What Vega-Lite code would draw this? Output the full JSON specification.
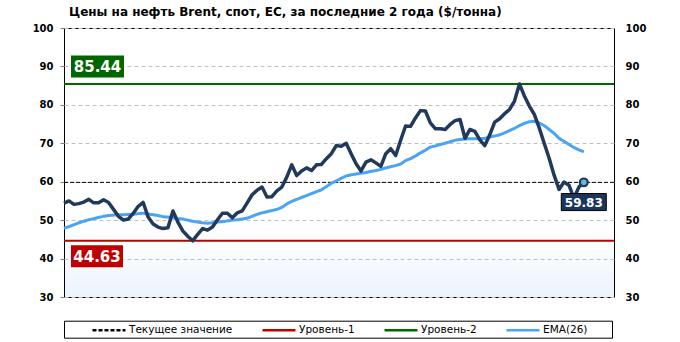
{
  "$schema": "https://vega.github.io/schema/vega-lite/v6.json",
  "width": 550,
  "height": 269,
  "autosize": {"type": "none"},
  "padding": {"left": 64, "top": 28, "right": 66, "bottom": 45},
  "background": "#ffffff",
  "title": {
    "text": "Цены на нефть Brent, спот, ЕС, за последние 2 года ($/тонна)",
    "anchor": "start", "frame": "group", "font": "DejaVu Sans", "fontSize": 12,
    "fontWeight": "bold", "color": "#000000", "offset": 4, "dx": 5
  },
  "config": {
    "view": {"stroke": "#000000", "strokeWidth": 1,
      "fill": {"gradient": "linear", "x1": 0, "y1": 0, "x2": 0, "y2": 1,
        "stops": [{"offset": 0, "color": "#ffffff"}, {"offset": 0.78, "color": "#ffffff"}, {"offset": 1, "color": "#eaf3fd"}]}},
    "axis": {"labelFont": "DejaVu Sans", "labelFontWeight": "bold", "labelColor": "#000000", "title": null, "domain": false,
      "gridColor": "#c0c0c0", "gridDash": [4, 3], "gridWidth": 1}
  },
  "datasets": {
    "price": [
      {"i":0,"v":54.4},{"i":1,"v":55.0},{"i":2,"v":54.1},{"i":3,"v":54.3},{"i":4,"v":54.7},{"i":5,"v":55.4},{"i":6,"v":54.5},{"i":7,"v":54.5},{"i":8,"v":55.3},{"i":9,"v":54.6},
      {"i":10,"v":52.8},{"i":11,"v":51.0},{"i":12,"v":50.0},{"i":13,"v":50.3},{"i":14,"v":51.8},{"i":15,"v":53.6},{"i":16,"v":54.6},{"i":17,"v":50.8},{"i":18,"v":49.0},{"i":19,"v":48.2},
      {"i":20,"v":47.8},{"i":21,"v":48.0},{"i":22,"v":52.4},{"i":23,"v":49.5},{"i":24,"v":47.2},{"i":25,"v":45.8},{"i":26,"v":44.63},{"i":27,"v":46.3},{"i":28,"v":47.8},{"i":29,"v":47.4},
      {"i":30,"v":48.2},{"i":31,"v":50.1},{"i":32,"v":51.8},{"i":33,"v":51.8},{"i":34,"v":50.6},{"i":35,"v":51.9},{"i":36,"v":52.4},{"i":37,"v":54.5},{"i":38,"v":56.6},{"i":39,"v":57.8},
      {"i":40,"v":58.6},{"i":41,"v":56.0},{"i":42,"v":56.1},{"i":43,"v":57.6},{"i":44,"v":58.6},{"i":45,"v":61.2},{"i":46,"v":64.4},{"i":47,"v":61.6},{"i":48,"v":62.8},{"i":49,"v":63.6},
      {"i":50,"v":62.9},{"i":51,"v":64.4},{"i":52,"v":64.5},{"i":53,"v":66.0},{"i":54,"v":67.3},{"i":55,"v":69.4},{"i":56,"v":69.2},{"i":57,"v":70.0},{"i":58,"v":67.3},{"i":59,"v":64.7},
      {"i":60,"v":62.8},{"i":61,"v":65.1},{"i":62,"v":65.7},{"i":63,"v":64.9},{"i":64,"v":64.0},{"i":65,"v":67.3},{"i":66,"v":68.6},{"i":67,"v":66.8},{"i":68,"v":70.8},{"i":69,"v":74.5},
      {"i":70,"v":74.4},{"i":71,"v":76.6},{"i":72,"v":78.5},{"i":73,"v":78.4},{"i":74,"v":75.3},{"i":75,"v":73.8},{"i":76,"v":73.8},{"i":77,"v":73.6},{"i":78,"v":74.9},{"i":79,"v":75.9},
      {"i":80,"v":76.2},{"i":81,"v":71.3},{"i":82,"v":73.6},{"i":83,"v":73.1},{"i":84,"v":70.9},{"i":85,"v":69.4},{"i":86,"v":72.2},{"i":87,"v":75.5},{"i":88,"v":76.4},{"i":89,"v":77.7},
      {"i":90,"v":78.8},{"i":91,"v":81.0},{"i":92,"v":85.44},{"i":93,"v":82.3},{"i":94,"v":79.7},{"i":95,"v":77.5},{"i":96,"v":74.0},{"i":97,"v":70.0},{"i":98,"v":66.1},{"i":99,"v":61.7},
      {"i":100,"v":58.0},{"i":101,"v":59.9},{"i":102,"v":59.1},{"i":103,"v":55.7},{"i":104,"v":58.6},{"i":105,"v":59.83}
    ],
    "ema": [
      {"i":0,"v":47.9},{"i":1,"v":48.3},{"i":2,"v":48.8},{"i":3,"v":49.3},{"i":4,"v":49.7},{"i":5,"v":50.1},{"i":6,"v":50.4},{"i":7,"v":50.7},{"i":8,"v":51.0},{"i":9,"v":51.2},
      {"i":10,"v":51.3},{"i":11,"v":51.4},{"i":12,"v":51.4},{"i":13,"v":51.5},{"i":14,"v":51.5},{"i":15,"v":51.7},{"i":16,"v":51.8},{"i":17,"v":51.6},{"i":18,"v":51.4},{"i":19,"v":51.2},
      {"i":20,"v":50.9},{"i":21,"v":50.8},{"i":22,"v":50.6},{"i":23,"v":50.4},{"i":24,"v":50.3},{"i":25,"v":50.0},{"i":26,"v":49.7},{"i":27,"v":49.5},{"i":28,"v":49.3},{"i":29,"v":49.2},
      {"i":30,"v":49.3},{"i":31,"v":49.5},{"i":32,"v":49.6},{"i":33,"v":49.8},{"i":34,"v":50.0},{"i":35,"v":50.1},{"i":36,"v":50.3},{"i":37,"v":50.5},{"i":38,"v":51.0},{"i":39,"v":51.5},
      {"i":40,"v":51.9},{"i":41,"v":52.2},{"i":42,"v":52.5},{"i":43,"v":52.8},{"i":44,"v":53.3},{"i":45,"v":54.2},{"i":46,"v":54.9},{"i":47,"v":55.4},{"i":48,"v":55.9},{"i":49,"v":56.4},
      {"i":50,"v":56.9},{"i":51,"v":57.4},{"i":52,"v":57.9},{"i":53,"v":58.7},{"i":54,"v":59.6},{"i":55,"v":60.2},{"i":56,"v":60.9},{"i":57,"v":61.5},{"i":58,"v":61.8},{"i":59,"v":62.0},
      {"i":60,"v":62.2},{"i":61,"v":62.4},{"i":62,"v":62.7},{"i":63,"v":62.9},{"i":64,"v":63.2},{"i":65,"v":63.6},{"i":66,"v":63.9},{"i":67,"v":64.2},{"i":68,"v":64.6},{"i":69,"v":65.5},
      {"i":70,"v":66.0},{"i":71,"v":66.7},{"i":72,"v":67.5},{"i":73,"v":68.2},{"i":74,"v":69.0},{"i":75,"v":69.3},{"i":76,"v":69.7},{"i":77,"v":70.0},{"i":78,"v":70.4},{"i":79,"v":70.8},
      {"i":80,"v":71.0},{"i":81,"v":71.1},{"i":82,"v":71.2},{"i":83,"v":71.2},{"i":84,"v":71.2},{"i":85,"v":71.3},{"i":86,"v":71.6},{"i":87,"v":71.9},{"i":88,"v":72.2},{"i":89,"v":72.7},
      {"i":90,"v":73.3},{"i":91,"v":73.9},{"i":92,"v":74.6},{"i":93,"v":75.2},{"i":94,"v":75.6},{"i":95,"v":75.7},{"i":96,"v":75.3},{"i":97,"v":74.6},{"i":98,"v":73.6},{"i":99,"v":72.6},
      {"i":100,"v":71.3},{"i":101,"v":70.5},{"i":102,"v":69.7},{"i":103,"v":68.9},{"i":104,"v":68.3},{"i":105,"v":67.8}
    ],
    "levels": [
      {"s": "Текущее значение", "v": 59.83},
      {"s": "Уровень-1", "v": 44.63},
      {"s": "Уровень-2", "v": 85.44}
    ]
  },
  "resolve": {"axis": {"y": "independent"}},
  "layer": [
    {
      "data": {"name": "levels"},
      "transform": [{"filter": "datum.s === 'Текущее значение'"}],
      "mark": {"type": "rule", "strokeWidth": 1},
      "encoding": {
        "y": {"field": "v", "type": "quantitative", "scale": {"domain": [30, 100], "nice": false, "zero": false}, "axis": null},
        "color": {"field": "s", "type": "nominal",
          "scale": {"domain": ["Текущее значение", "Уровень-1", "Уровень-2", "EMA(26)"], "range": ["#000000", "#C00000", "#006600", "#4AA3F4"]},
          "legend": {"orient": "none", "legendX": 0, "legendY": 292.7, "direction": "horizontal", "title": "\u00a0",
            "titleOrient": "right", "titlePadding": 23, "titleFontSize": 6,
            "strokeColor": "#000000", "padding": 2, "symbolType": "M-4.5,0H1", "symbolSize": 144, "symbolOffset": 46,
            "symbolStrokeWidth": 2.5, "labelOffset": 2, "columnPadding": 3, "labelFont": "DejaVu Sans", "labelFontSize": 10.5, "labelColor": "#000000"}},
        "strokeDash": {"field": "s", "type": "nominal",
          "scale": {"domain": ["Текущее значение", "Уровень-1", "Уровень-2", "EMA(26)"], "range": [[4, 2], [1, 0], [1, 0], [1, 0]]}}
      }
    },
    {
      "data": {"name": "levels"},
      "transform": [{"filter": "datum.s !== 'Текущее значение'"}],
      "mark": {"type": "rule", "strokeWidth": 2},
      "encoding": {
        "y": {"field": "v", "type": "quantitative", "axis": null},
        "color": {"field": "s", "type": "nominal"},
        "strokeDash": {"field": "s", "type": "nominal"}
      }
    },
    {
      "data": {"name": "ema"},
      "mark": {"type": "line", "strokeWidth": 3, "strokeJoin": "round"},
      "encoding": {
        "x": {"field": "i", "type": "quantitative", "axis": null},
        "y": {"field": "v", "type": "quantitative",
          "axis": {"orient": "right", "values": [30, 40, 50, 60, 70, 80, 90, 100], "grid": false, "ticks": false, "labelPadding": 11, "labelFontSize": 10}},
        "color": {"datum": "EMA(26)"},
        "strokeDash": {"datum": "EMA(26)"}
      }
    },
    {
      "data": {"name": "price"},
      "mark": {"type": "line", "strokeWidth": 3.5, "color": "#213A5C", "strokeJoin": "round"},
      "encoding": {
        "x": {"field": "i", "type": "quantitative", "scale": {"domain": [0, 111.1], "nice": false, "zero": false},
          "axis": {"values": [0, 26, 52, 78, 104], "grid": true, "ticks": false, "labelFlush": false, "labelOverlap": false,
            "labelFontSize": 9.5, "labelPadding": 9,
            "labelExpr": "datum.value == 0 ? '30.12.2016' : datum.value == 26 ? '30.06.2017' : datum.value == 52 ? '29.12.2017' : datum.value == 78 ? '06.07.2018' : '18.01.2019'"}},
        "y": {"field": "v", "type": "quantitative",
          "axis": {"orient": "left", "values": [30, 40, 50, 60, 70, 80, 90, 100], "grid": true, "ticks": true, "tickSize": 4, "tickColor": "#808080", "labelPadding": 7, "labelFontSize": 10}}
      }
    },
    {
      "data": {"name": "levels"},
      "transform": [{"filter": "datum.s === 'Уровень-2'"}],
      "mark": {"type": "point", "shape": "M-2.409,-1H2.409V1H-2.409Z", "size": 484, "filled": true, "fill": "#006600", "opacity": 1, "strokeWidth": 0, "xOffset": 33.5, "yOffset": -17.5},
      "encoding": {"x": {"datum": 0, "type": "quantitative", "axis": null}, "y": {"field": "v", "type": "quantitative", "axis": null}}
    },
    {
      "data": {"name": "levels"},
      "transform": [{"filter": "datum.s === 'Уровень-2'"}],
      "mark": {"type": "text", "font": "DejaVu Sans", "fontSize": 15, "fontWeight": "bold", "color": "#ffffff", "align": "center", "baseline": "middle", "xOffset": 33.5, "yOffset": -17},
      "encoding": {"x": {"datum": 0, "type": "quantitative", "axis": null}, "y": {"field": "v", "type": "quantitative", "axis": null}, "text": {"field": "v", "type": "quantitative", "format": ".2f"}}
    },
    {
      "data": {"name": "levels"},
      "transform": [{"filter": "datum.s === 'Уровень-1'"}],
      "mark": {"type": "point", "shape": "M-2.364,-1H2.364V1H-2.364Z", "size": 484, "filled": true, "fill": "#C00000", "opacity": 1, "strokeWidth": 0, "xOffset": 33, "yOffset": 15.5},
      "encoding": {"x": {"datum": 0, "type": "quantitative", "axis": null}, "y": {"field": "v", "type": "quantitative", "axis": null}}
    },
    {
      "data": {"name": "levels"},
      "transform": [{"filter": "datum.s === 'Уровень-1'"}],
      "mark": {"type": "text", "font": "DejaVu Sans", "fontSize": 15, "fontWeight": "bold", "color": "#ffffff", "align": "center", "baseline": "middle", "xOffset": 33, "yOffset": 16},
      "encoding": {"x": {"datum": 0, "type": "quantitative", "axis": null}, "y": {"field": "v", "type": "quantitative", "axis": null}, "text": {"field": "v", "type": "quantitative", "format": ".2f"}}
    },
    {
      "data": {"name": "price"},
      "transform": [{"filter": "datum.i === 105"}],
      "mark": {"type": "point", "shape": "M-2.647,-1H2.647V1H-2.647Z", "size": 289, "filled": true, "fill": "#1B365D", "stroke": "#000000", "strokeWidth": 1, "opacity": 1, "yOffset": 19.7},
      "encoding": {"x": {"field": "i", "type": "quantitative", "axis": null}, "y": {"field": "v", "type": "quantitative", "axis": null}}
    },
    {
      "data": {"name": "price"},
      "transform": [{"filter": "datum.i === 105"}],
      "mark": {"type": "text", "font": "DejaVu Sans", "fontSize": 12, "fontWeight": "bold", "color": "#ffffff", "align": "center", "baseline": "middle", "yOffset": 20.2},
      "encoding": {"x": {"field": "i", "type": "quantitative", "axis": null}, "y": {"field": "v", "type": "quantitative", "axis": null}, "text": {"field": "v", "type": "quantitative", "format": ".2f"}}
    },
    {
      "data": {"name": "price"},
      "transform": [{"filter": "datum.i === 105"}],
      "mark": {"type": "point", "shape": "circle", "size": 60, "filled": true, "fill": "#63BCD6", "stroke": "#1E3A5F", "strokeWidth": 2.2, "opacity": 1},
      "encoding": {"x": {"field": "i", "type": "quantitative", "axis": null}, "y": {"field": "v", "type": "quantitative", "axis": null}}
    }
  ]
}
